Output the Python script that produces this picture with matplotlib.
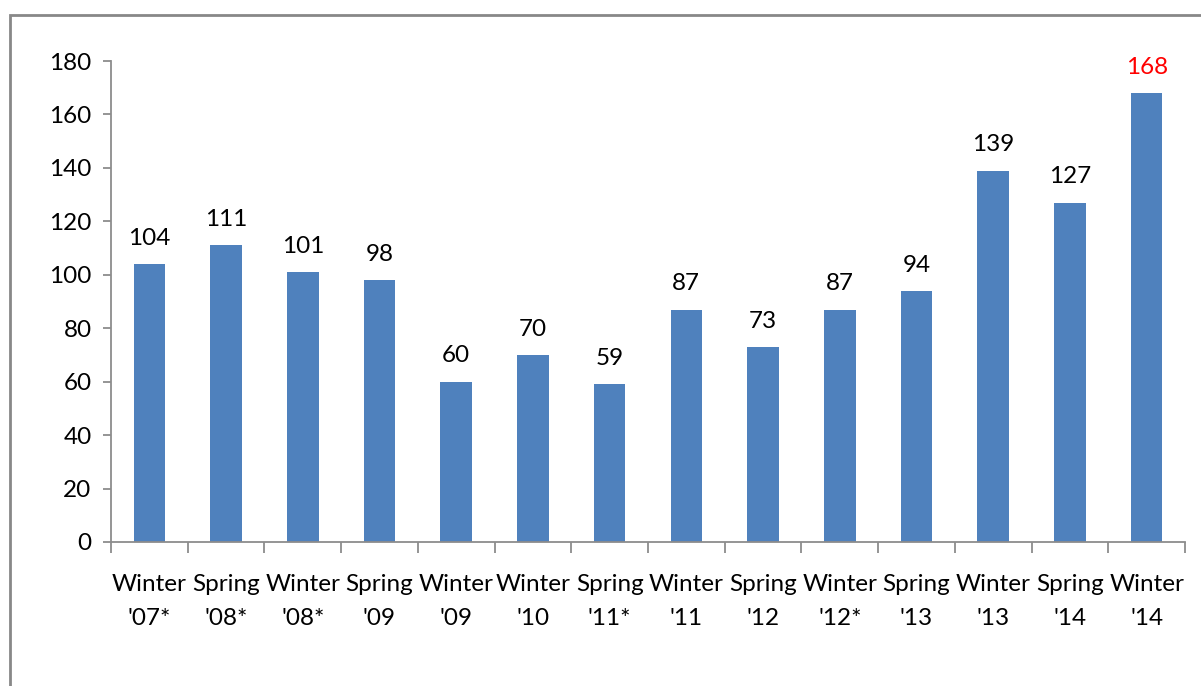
import matplotlib
matplotlib.use('Agg')
import matplotlib.pyplot as plt
from matplotlib.patches import Rectangle

labels = ["Winter\n'07*", "Spring\n'08*", "Winter\n'08*", "Spring\n'09", "Winter\n'09",
          "Winter\n'10", "Spring\n'11*", "Winter\n'11", "Spring\n'12", "Winter\n'12*",
          "Spring\n'13", "Winter\n'13", "Spring\n'14", "Winter\n'14"]
values = [104, 111, 101, 98, 60, 70, 59, 87, 73, 87, 94, 139, 127, 168]
yticks = [0, 20, 40, 60, 80, 100, 120, 140, 160, 180]

plt.rcParams['font.family'] = ['Lato', 'DejaVu Sans']
fs = 17.5
axcol = '#8c8c8c'

fig = plt.figure(figsize=(12.01, 6.86), dpi=100)
ax = fig.add_axes([111 / 1201, 1 - 542 / 686, (1185 - 111) / 1201, (542 - 61) / 686])

# outer chart border, runs off the right and bottom edges
fig.patches.append(Rectangle((10 / 1201, -0.1), 1.2, 1 - 15 / 686 + 0.1,
                             transform=fig.transFigure, fill=False,
                             edgecolor='#888888', linewidth=2))

x = list(range(len(values)))
ax.bar(x, values, width=0.41, color='#4f81bd')
for i, v in enumerate(values):
    col = 'red' if i == len(values) - 1 else 'black'
    ax.annotate(str(v), (i, v), xytext=(0, 11), textcoords='offset points',
                ha='center', va='bottom', fontsize=fs, color=col)

ax.set_xlim(-0.5, len(values) - 0.5)
ax.set_ylim(0, 180)
ax.set_yticks(yticks)
ax.tick_params(axis='y', labelsize=fs, length=6, color=axcol, width=1.3, pad=8)

ax.set_xticks([i - 0.5 for i in range(len(values) + 1)])
ax.set_xticklabels([])
ax.set_xticks(x, minor=True)
ax.set_xticklabels(labels, minor=True, fontsize=fs, linespacing=1.75)
ax.tick_params(axis='x', which='major', length=8, color=axcol, width=1.3, direction='out')
ax.tick_params(axis='x', which='minor', length=0, pad=23)

for s in ['top', 'right']:
    ax.spines[s].set_visible(False)
for s in ['left', 'bottom']:
    ax.spines[s].set_color(axcol)
    ax.spines[s].set_linewidth(1.3)

fig.savefig('out.png', dpi=100)
